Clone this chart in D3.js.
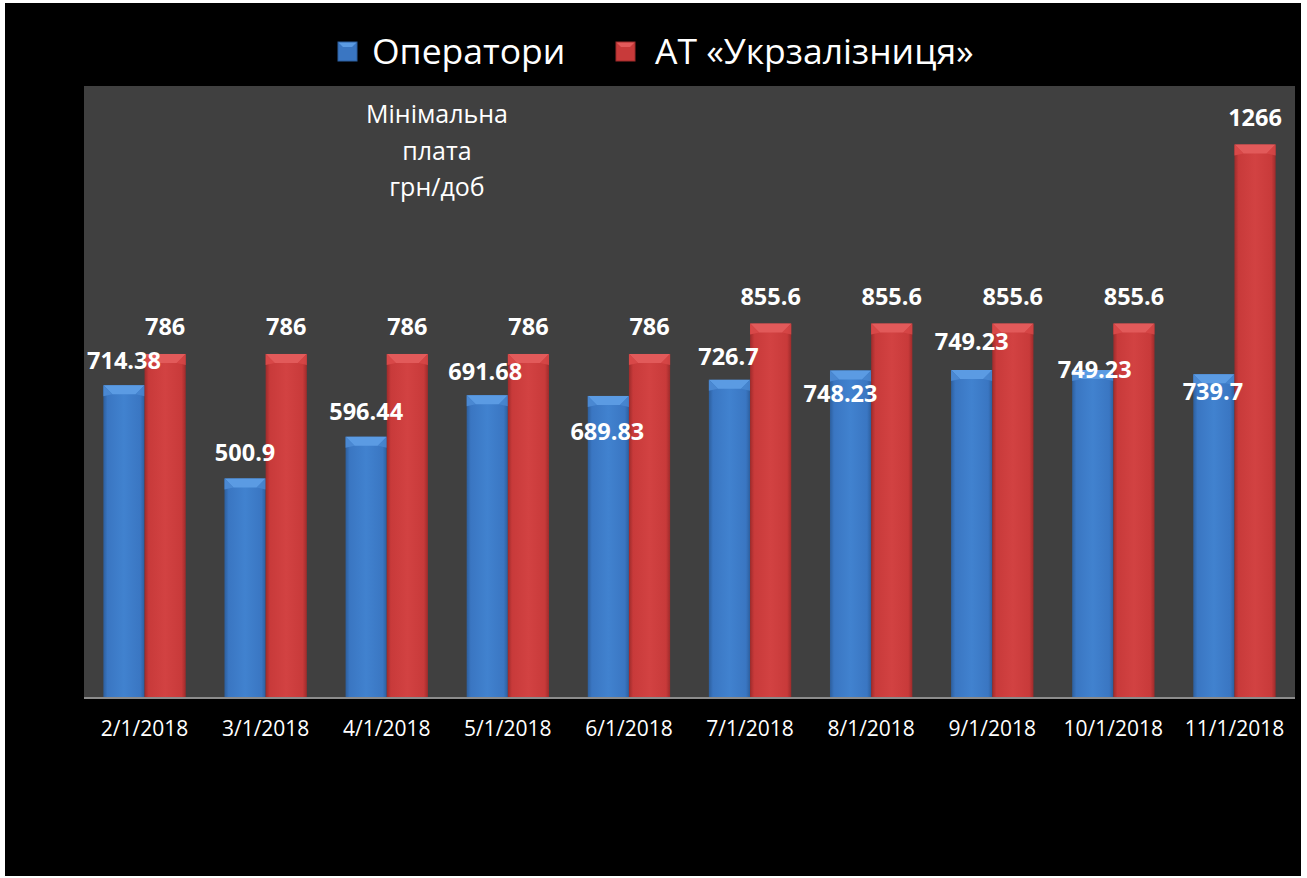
<!DOCTYPE html>
<html>
<head>
<meta charset="utf-8">
<script src="https://cdn.jsdelivr.net/npm/d3@7"></script>
<style>
  html, body { margin: 0; padding: 0; background: #ffffff; }
  svg { display: block; }
  text { font-family: "Open Sans", "Noto Sans", sans-serif; fill: #ffffff; }
</style>
</head>
<body>
<div id="chart"></div>
<script>

// data
var dates = ["2/1/2018", "3/1/2018", "4/1/2018", "5/1/2018", "6/1/2018",
             "7/1/2018", "8/1/2018", "9/1/2018", "10/1/2018", "11/1/2018"];
var operators = [714.38, 500.9, 596.44, 691.68, 689.83, 726.7, 748.23, 749.23, 749.23, 739.7];
var uz = [786, 786, 786, 786, 786, 855.6, 855.6, 855.6, 855.6, 1266];
var seriesNames = ["Оператори", "АТ «Укрзалізниця»"];
var subtitle = ["Мінімальна", "плата", "грн/доб"];

// where excel put the value labels (shift from bar top, px)
var opLabelShift = [[0, -25], [0, -26], [0, -25], [-2, -24], [-1, 36],
                    [-1, -23], [-10, 23], [0, -28], [2, 0], [-1, 17]];
var uzLabelShift = [0, 0, 0, 0, 0, 0, 0, 0, 0, 0].map(function(){ return [0, -27]; });

var W = 1307, H = 878;
var margin = { top: 86, right: 12, bottom: 181, left: 84 };

var svg = d3.select("#chart").append("svg")
    .attr("width", W)
    .attr("height", H);

var defs = svg.append("defs");

function barGrad(id, dark, mid, light) {
  var g = defs.append("linearGradient").attr("id", id)
    .attr("x1", "0%").attr("x2", "100%").attr("y1", "0%").attr("y2", "0%");
  g.append("stop").attr("offset", "0%").attr("stop-color", dark);
  g.append("stop").attr("offset", "10%").attr("stop-color", mid);
  g.append("stop").attr("offset", "50%").attr("stop-color", light);
  g.append("stop").attr("offset", "90%").attr("stop-color", mid);
  g.append("stop").attr("offset", "100%").attr("stop-color", dark);
}
barGrad("gBlue", "#2d5f9e", "#3a76c2", "#4182cf");
barGrad("gRed", "#9e2b2b", "#c83a3a", "#d24242");

// background: white edge, black chart, grey plot
svg.append("rect").attr("width", W).attr("height", H).attr("fill", "#ffffff");
svg.append("rect").attr("x", 5).attr("y", 3).attr("width", 1296).attr("height", 873).attr("fill", "#000000");

var plotW = W - margin.left - margin.right;
var plotH = H - margin.top - margin.bottom;

var g = svg.append("g").attr("transform", "translate(" + margin.left + "," + margin.top + ")");

g.append("rect").attr("width", plotW).attr("height", plotH).attr("fill", "#404040");

var x0 = d3.scaleBand().domain(dates).range([0, plotW]).paddingInner(0.32).paddingOuter(0.16);
var x1 = d3.scaleBand().domain([0, 1]).range([0, x0.bandwidth()]);
var y = d3.scaleLinear().domain([0, 1400]).range([plotH, 0]);

var series = [
  { vals: operators, fill: "url(#gBlue)", cap: "#5b9be3", capSide: "#4a88d2", shift: opLabelShift },
  { vals: uz, fill: "url(#gRed)", cap: "#e25a5a", capSide: "#d84848", shift: uzLabelShift }
];

var bw = x1.bandwidth();
var bev = 9;

series.forEach(function(s, si) {
  var bars = g.append("g").selectAll("g")
    .data(s.vals)
    .enter().append("g")
    .attr("transform", function(d, i) { return "translate(" + (x0(dates[i]) + x1(si)) + ",0)"; });

  bars.append("rect")
    .attr("x", 0)
    .attr("y", function(d) { return y(d); })
    .attr("width", bw)
    .attr("height", function(d) { return plotH - y(d); })
    .attr("fill", s.fill);

  // bevelled top
  bars.append("path")
    .attr("d", function(d) {
      var t = y(d);
      return "M0," + t + "L" + bw + "," + t + "L" + (bw - bev) + "," + (t + bev) + "L" + bev + "," + (t + bev) + "Z";
    })
    .attr("fill", s.cap);
  bars.append("path")
    .attr("d", function(d) {
      var t = y(d);
      return "M0," + t + "L" + bev + "," + (t + bev) + "L0," + (t + bev + 2) + "Z";
    })
    .attr("fill", s.capSide);
  bars.append("path")
    .attr("d", function(d) {
      var t = y(d);
      return "M" + bw + "," + t + "L" + (bw - bev) + "," + (t + bev) + "L" + bw + "," + (t + bev + 2) + "Z";
    })
    .attr("fill", s.capSide)
    .attr("opacity", 0.8);
});

// value labels, drawn over all bars
series.forEach(function(s, si) {
  g.append("g").selectAll("text")
    .data(s.vals)
    .enter().append("text")
    .attr("x", function(d, i) { return x0(dates[i]) + x1(si) + bw / 2 + s.shift[i][0]; })
    .attr("y", function(d, i) { return y(d) + s.shift[i][1]; })
    .attr("dy", "0.36em")
    .attr("text-anchor", "middle")
    .style("font-weight", "bold")
    .style("font-size", "23.5px")
    .text(function(d) { return d; });
});

// axis line
g.append("line")
  .attr("x1", 0).attr("x2", plotW)
  .attr("y1", plotH + 1).attr("y2", plotH + 1)
  .attr("stroke", "#8c8c8c").attr("stroke-width", 2);

// x labels
g.append("g").selectAll("text")
  .data(dates)
  .enter().append("text")
  .attr("x", function(d) { return x0(d) + x0.bandwidth() / 2; })
  .attr("y", plotH + 31)
  .attr("dy", "0.36em")
  .attr("text-anchor", "middle")
  .style("font-size", "21px")
  .text(function(d) { return d; });

// subtitle inside plot
g.append("g").selectAll("text")
  .data(subtitle)
  .enter().append("text")
  .attr("x", 437 - margin.left)
  .attr("y", function(d, i) { return 114 - margin.top + i * 36.5; })
  .attr("dy", "0.36em")
  .attr("text-anchor", "middle")
  .style("font-size", "25px")
  .text(function(d) { return d; });

// legend
var legend = svg.append("g");
var legX = [338, 616];
var legGap = [15, 20];
var legColors = [["#5b9be3", "#3a76c2", "#2d5f9e"], ["#e25a5a", "#c83a3a", "#9e2b2b"]];
seriesNames.forEach(function(name, i) {
  var lx = legX[i], ly = 42, s = 19;
  legend.append("rect").attr("x", lx).attr("y", ly).attr("width", s).attr("height", s).attr("fill", legColors[i][1]);
  legend.append("path")
    .attr("d", "M" + lx + "," + ly + "L" + (lx + s) + "," + ly + "L" + (lx + s - 5) + "," + (ly + 5) + "L" + (lx + 5) + "," + (ly + 5) + "Z")
    .attr("fill", legColors[i][0]);
  legend.append("rect").attr("x", lx).attr("y", ly).attr("width", s).attr("height", s)
    .attr("fill", "none").attr("stroke", legColors[i][2]).attr("stroke-width", 1);
  legend.append("text")
    .attr("x", lx + s + legGap[i])
    .attr("y", ly + s / 2)
    .attr("dy", "0.36em")
    .style("font-size", "35.5px")
    .text(name);
});

</script>
</body>
</html>
